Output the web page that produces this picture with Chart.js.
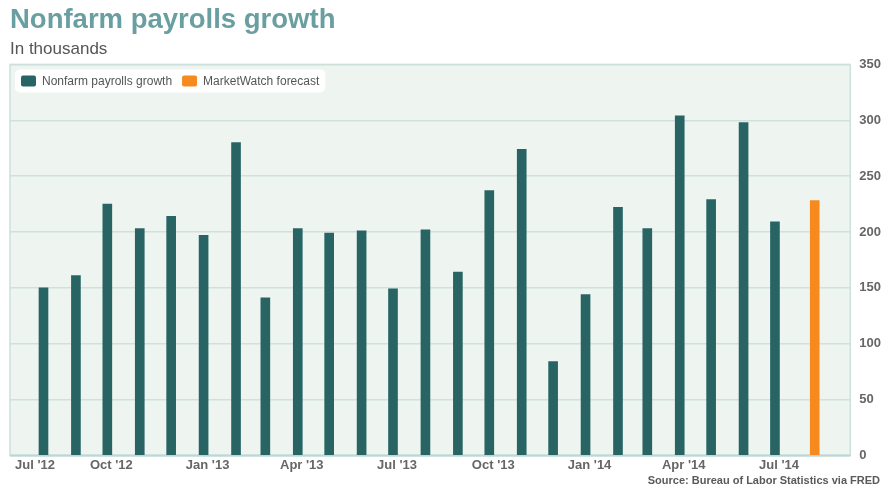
<!DOCTYPE html>
<html>
<head>
<meta charset="utf-8">
<title>Nonfarm payrolls growth</title>
<script src="https://cdn.jsdelivr.net/npm/chart.js@4.4.1/dist/chart.umd.min.js"></script>
<style>
  html, body { margin: 0; padding: 0; background: #fff; }
  #wrap { width: 890px; height: 495px; }
</style>
</head>
<body>
<div id="wrap"><canvas id="payrollChart"></canvas></div>
<script>
// monthly change, thousands (BLS via FRED)
const months = [
  '2012-08-01', '2012-09-01', '2012-10-01', '2012-11-01', '2012-12-01',
  '2013-01-01', '2013-02-01', '2013-03-01', '2013-04-01', '2013-05-01', '2013-06-01',
  '2013-07-01', '2013-08-01', '2013-09-01', '2013-10-01', '2013-11-01', '2013-12-01',
  '2014-01-01', '2014-02-01', '2014-03-01', '2014-04-01', '2014-05-01', '2014-06-01',
  '2014-07-01'
];
const payrolls = [150, 161, 225, 203, 214, 197, 280, 141, 203, 199, 201, 149,
  202, 164, 237, 274, 84, 144, 222, 203, 304, 229, 298, 209];

const forecastDates = ['2014-08-08'];
const forecast = [228];

const tickDates = ['2012-07-01', '2012-10-01', '2013-01-01', '2013-04-01', '2013-07-01',
  '2013-10-01', '2014-01-01', '2014-04-01', '2014-07-01'];
const tickLabels = ["Jul '12", "Oct '12", "Jan '13", "Apr '13", "Jul '13",
  "Oct '13", "Jan '14", "Apr '14", "Jul '14"];

const xStart = '2012-06-30';
const xEnd = '2014-09-11';

const dayOf = s => Date.parse(s) / 864e5;
const FONT = "'Liberation Sans', Arial, Helvetica, sans-serif";

// plot background and frame
const plotBackground = {
  id: 'plotBackground',
  beforeDraw(chart) {
    const {ctx, chartArea: a} = chart;
    ctx.save();
    ctx.fillStyle = '#eef5f1';
    ctx.fillRect(a.left, a.top, a.right - a.left, a.bottom - a.top);
    ctx.restore();
  },
  beforeDatasetsDraw(chart) {
    const {ctx, chartArea: a} = chart;
    ctx.save();
    ctx.strokeStyle = '#cce0dd';
    ctx.lineWidth = 1.5;
    ctx.strokeRect(a.left, a.top, a.right - a.left, a.bottom - a.top);
    ctx.strokeStyle = '#bcd7d6';
    ctx.lineWidth = 2;
    ctx.beginPath();
    ctx.moveTo(a.left, a.bottom);
    ctx.lineTo(a.right, a.bottom);
    ctx.stroke();
    ctx.restore();
  }
};

// legend sits inside the plot, top-left, on a white rounded box
const insideLegend = {
  id: 'insideLegend',
  afterDatasetsDraw(chart) {
    const {ctx, chartArea: a} = chart;
    const sets = chart.data.datasets;
    ctx.save();
    ctx.font = '12px ' + FONT;
    let x = a.left + 11;
    const y = a.top + 11;
    const items = sets.map(ds => {
      const w = 15 + 6 + ctx.measureText(ds.label).width;
      const it = {x: x, w: w, ds: ds};
      x += w + 10;
      return it;
    });
    const right = x - 10;
    ctx.fillStyle = '#ffffff';
    ctx.beginPath();
    ctx.roundRect(a.left + 5, y - 6, right - a.left + 1, 23, 5);
    ctx.fill();
    items.forEach(it => {
      ctx.fillStyle = it.ds.backgroundColor;
      ctx.beginPath();
      ctx.roundRect(it.x, y, 15, 11, 2);
      ctx.fill();
      ctx.fillStyle = '#555';
      ctx.textBaseline = 'middle';
      ctx.fillText(it.ds.label, it.x + 21, y + 6);
    });
    ctx.restore();
  }
};

const sourceNote = {
  id: 'sourceNote',
  afterDraw(chart) {
    const ctx = chart.ctx;
    ctx.save();
    ctx.font = 'bold 11px ' + FONT;
    ctx.fillStyle = '#5a5a5a';
    ctx.textAlign = 'right';
    ctx.textBaseline = 'middle';
    ctx.fillText('Source: Bureau of Labor Statistics via FRED', chart.width - 10, 481);
    ctx.restore();
  }
};

const ctx = document.getElementById('payrollChart').getContext('2d');
const payrollChart = new Chart(ctx, {
  type: 'bar',
  data: {
    datasets: [{
      label: 'Nonfarm payrolls growth',
      data: months.map((m, i) => ({x: dayOf(m), y: payrolls[i]})),
      backgroundColor: '#296465',
      barThickness: 9,
      grouped: false
    }, {
      label: 'MarketWatch forecast',
      data: forecastDates.map((m, i) => ({x: dayOf(m), y: forecast[i]})),
      backgroundColor: '#f78a1f',
      barThickness: 9,
      grouped: false
    }]
  },
  options: {
    responsive: true,
    maintainAspectRatio: false,
    animation: false,
    layout: { padding: { left: 10, right: 0, top: 0, bottom: 20 } },
    scales: {
      x: {
        type: 'linear',
        offset: false,
        min: dayOf(xStart),
        max: dayOf(xEnd),
        grid: { display: false, drawTicks: false },
        border: { display: false },
        afterBuildTicks: scale => {
          scale.ticks = tickDates.map(d => ({value: dayOf(d)}));
          scale.ticks.push({value: dayOf(xEnd)});
        },
        ticks: {
          align: 'inner',
          autoSkip: false,
          maxRotation: 0,
          padding: 2,
          labelOffset: 4,
          color: '#666',
          font: { family: FONT, size: 13, weight: 'bold' },
          callback: (v, i) => tickLabels[i] || ''
        }
      },
      y: {
        position: 'right',
        min: 0,
        max: 350,
        grid: { color: '#cfe1de', lineWidth: 1.5, drawTicks: false },
        border: { display: false },
        ticks: {
          stepSize: 50,
          padding: 9,
          color: '#666',
          font: { family: FONT, size: 13, weight: 'bold' }
        }
      }
    },
    plugins: {
      title: {
        display: true,
        text: 'Nonfarm payrolls growth',
        align: 'start',
        color: '#6a9fa1',
        font: { family: FONT, size: 27.5, weight: 'bold' },
        padding: { top: 4, bottom: 0 }
      },
      subtitle: {
        display: true,
        text: 'In thousands',
        align: 'start',
        color: '#555',
        font: { family: FONT, size: 17, weight: 'normal' },
        padding: { top: 2, bottom: 5 }
      },
      legend: { display: false },
      tooltip: { enabled: false }
    }
  },
  plugins: [plotBackground, insideLegend, sourceNote]
});
</script>
</body>
</html>
